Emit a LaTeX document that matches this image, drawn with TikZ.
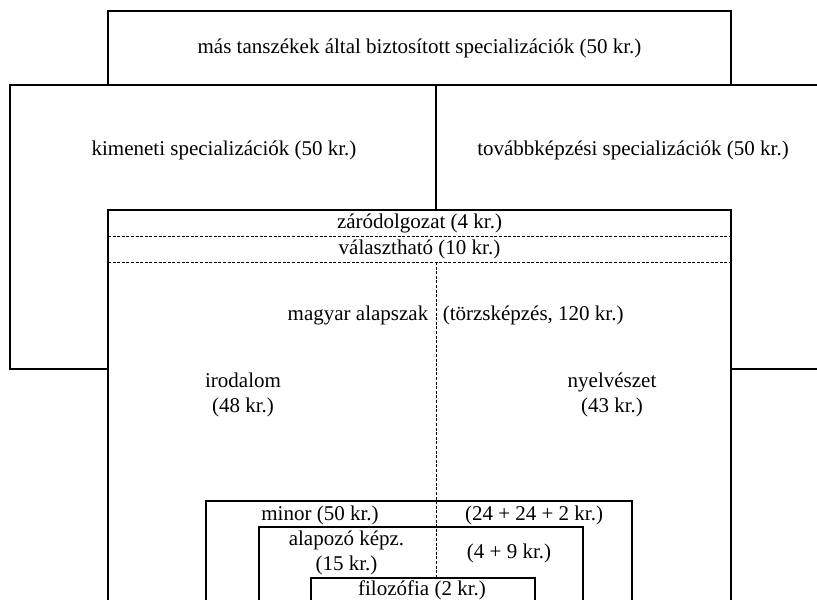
\documentclass[tikz,border=0pt]{standalone}
\usepackage{fontspec}
\setmainfont{Liberation Serif}
\usetikzlibrary{positioning}

\begin{document}
\begin{tikzpicture}[x=0.5pt,y=-0.5pt,line width=0.75pt,
  txt/.style={inner sep=0pt,align=center,font=\fontsize{10.5}{12.6}\selectfont},
  trenn/.style={line width=0.4pt,dash pattern=on 1.5pt off 0.8pt}]
\useasboundingbox (0,0) rectangle (817,599);
\clip (0,0) rectangle (817,599);
%Rahmen
\draw (108,11) rectangle (731,85);
\draw (10,85) rectangle (840,369);
\draw (436,85) -- (436,210);
\filldraw[fill=white] (108,210) rectangle (731,640);
\draw[trenn] (108,236) -- (731,236);
\draw[trenn] (108,262) -- (731,262);
\draw[trenn] (436,262) -- (436,578);
\draw (206,501) rectangle (632,640);
\draw (259,527) rectangle (583,640);
\draw (311,578) rectangle (535,640);

%Texte
\node (mas) [txt] at (419.5,48) {más tanszékek által biztosított specializációk (50 kr.)};
\node (kim) [txt] at (224,150) {kimeneti specializációk (50 kr.)};
\node (tov) [txt] at (633,150) {továbbképzési specializációk (50 kr.)};
\node (zaro) [txt] at (419.5,223) {záródolgozat (4 kr.)};
\node (val) [txt] at (419.5,249) {választható (10 kr.)};
\node (magy) [txt,anchor=east] at (429,315) {magyar alapszak};
\node (torzs) [txt,anchor=west] at (442,315) {(törzsképzés, 120 kr.)};
\node (iro) [txt] at (243,395) {irodalom\\(48 kr.)};
\node (nyelv) [txt] at (612,395) {nyelvészet\\(43 kr.)};
\node (minor) [txt] at (320,515) {minor (50 kr.)};
\node (minkr) [txt] at (534,515) {(24 + 24 + 2 kr.)};
\node (alap) [txt] at (346.5,553) {alapozó képz.\\(15 kr.)};
\node (alapkr) [txt] at (509,553) {(4 + 9 kr.)};
\node (filo) [txt] at (422,590) {filozófia (2 kr.)};
\end{tikzpicture}
\end{document}
